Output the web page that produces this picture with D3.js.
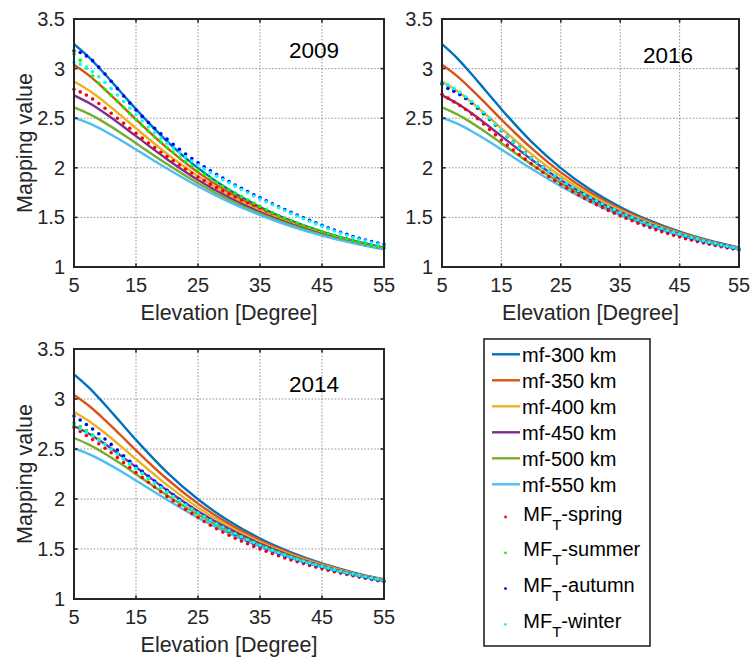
<!DOCTYPE html>
<html>
<head>
<meta charset="utf-8">
<script src="https://cdn.jsdelivr.net/npm/d3@7/dist/d3.min.js"></script>
<style>
  html, body { margin: 0; padding: 0; background: #fff; }
  svg { display: block; font-family: "Liberation Sans", Arial, Helvetica, sans-serif; }
</style>
</head>
<body>
<svg id="chart" width="752" height="658"></svg>
<script>
// ---------- data ----------
const xTicks = [5, 15, 25, 35, 45, 55];
const yTicks = [1, 1.5, 2, 2.5, 3, 3.5];

// single-layer mapping function curves, sampled along elevation (degrees)
const elevLine = [5, 7.5, 10, 12.5, 15, 20, 25, 30, 35, 40, 45, 50, 55];
const mf300 = [3.247, 3.109, 2.943, 2.767, 2.591, 2.267, 1.997, 1.779, 1.605, 1.467, 1.356, 1.267, 1.195];
const mf350 = [3.039, 2.927, 2.789, 2.640, 2.487, 2.200, 1.954, 1.751, 1.587, 1.455, 1.348, 1.261, 1.192];
const mf400 = [2.870, 2.776, 2.660, 2.531, 2.398, 2.141, 1.915, 1.725, 1.570, 1.443, 1.340, 1.256, 1.188];
const mf450 = [2.730, 2.650, 2.549, 2.436, 2.319, 2.087, 1.878, 1.701, 1.553, 1.431, 1.332, 1.250, 1.184];
const mf500 = [2.610, 2.541, 2.453, 2.354, 2.248, 2.038, 1.845, 1.678, 1.537, 1.421, 1.324, 1.245, 1.181];
const mf550 = [2.507, 2.447, 2.369, 2.280, 2.185, 1.993, 1.814, 1.656, 1.523, 1.410, 1.317, 1.241, 1.178];

const lineNames = ["mf-300 km", "mf-350 km", "mf-400 km", "mf-450 km", "mf-500 km", "mf-550 km"];

// seasonal mapping values, one per degree of elevation
const elevDots = [5, 6, 7, 8, 9, 10, 11, 12, 13, 14, 15, 16, 17, 18, 19, 20, 21, 22, 23, 24,
  25, 26, 27, 28, 29, 30, 31, 32, 33, 34, 35, 36, 37, 38, 39, 40, 41, 42, 43, 44,
  45, 46, 47, 48, 49, 50, 51, 52, 53, 54, 55];

const spring2009 = [2.792, 2.765, 2.733, 2.694, 2.648, 2.600, 2.550, 2.500, 2.450, 2.399,
  2.349, 2.299, 2.250, 2.203, 2.157, 2.113, 2.070, 2.028, 1.987, 1.947,
  1.908, 1.871, 1.835, 1.800, 1.767, 1.735, 1.705, 1.676, 1.649, 1.622,
  1.596, 1.568, 1.541, 1.514, 1.488, 1.463, 1.439, 1.416, 1.394, 1.373,
  1.353, 1.333, 1.314, 1.296, 1.279, 1.262, 1.246, 1.231, 1.217, 1.204, 1.192];
const summer2009 = [3.148, 3.085, 3.005, 2.925, 2.855, 2.790, 2.730, 2.670, 2.609, 2.548,
  2.487, 2.427, 2.368, 2.311, 2.257, 2.205, 2.155, 2.107, 2.061, 2.017,
  1.975, 1.934, 1.894, 1.855, 1.817, 1.780, 1.744, 1.709, 1.675, 1.642,
  1.610, 1.577, 1.546, 1.517, 1.490, 1.465, 1.441, 1.418, 1.396, 1.375,
  1.355, 1.335, 1.316, 1.298, 1.280, 1.263, 1.247, 1.232, 1.218, 1.205, 1.193];
const autumn2009 = [3.180, 3.162, 3.128, 3.080, 3.015, 2.945, 2.872, 2.798, 2.724, 2.652,
  2.583, 2.518, 2.456, 2.398, 2.342, 2.289, 2.237, 2.187, 2.139, 2.094,
  2.050, 2.010, 1.971, 1.933, 1.897, 1.862, 1.827, 1.793, 1.760, 1.728,
  1.697, 1.667, 1.637, 1.608, 1.579, 1.551, 1.524, 1.497, 1.471, 1.445,
  1.420, 1.396, 1.373, 1.351, 1.329, 1.308, 1.289, 1.272, 1.256, 1.241, 1.228];
const winter2009 = [3.060, 3.045, 3.015, 2.970, 2.918, 2.860, 2.798, 2.734, 2.668, 2.601,
  2.535, 2.472, 2.412, 2.355, 2.300, 2.248, 2.200, 2.154, 2.110, 2.068,
  2.028, 1.989, 1.952, 1.916, 1.882, 1.849, 1.815, 1.781, 1.748, 1.716,
  1.685, 1.657, 1.627, 1.598, 1.569, 1.541, 1.514, 1.487, 1.461, 1.435,
  1.410, 1.386, 1.363, 1.341, 1.319, 1.298, 1.280, 1.263, 1.247, 1.232, 1.220];

const spring2016 = [2.741, 2.702, 2.665, 2.628, 2.588, 2.543, 2.494, 2.441, 2.386, 2.332,
  2.280, 2.229, 2.180, 2.133, 2.087, 2.042, 1.998, 1.955, 1.913, 1.873,
  1.834, 1.796, 1.760, 1.725, 1.692, 1.660, 1.629, 1.599, 1.570, 1.543,
  1.517, 1.491, 1.466, 1.442, 1.419, 1.397, 1.376, 1.356, 1.337, 1.319,
  1.302, 1.286, 1.271, 1.256, 1.242, 1.229, 1.216, 1.204, 1.193, 1.183, 1.174];
const summer2016 = [2.860, 2.828, 2.790, 2.748, 2.700, 2.650, 2.598, 2.543, 2.486, 2.428,
  2.370, 2.312, 2.255, 2.200, 2.148, 2.098, 2.051, 2.005, 1.961, 1.919,
  1.878, 1.839, 1.802, 1.766, 1.731, 1.697, 1.665, 1.634, 1.604, 1.575,
  1.547, 1.521, 1.495, 1.471, 1.448, 1.426, 1.405, 1.385, 1.365, 1.346,
  1.328, 1.311, 1.294, 1.278, 1.262, 1.247, 1.233, 1.219, 1.206, 1.194, 1.182];
const autumn2016 = [2.845, 2.800, 2.772, 2.738, 2.698, 2.653, 2.604, 2.550, 2.492, 2.434,
  2.376, 2.318, 2.261, 2.206, 2.153, 2.102, 2.054, 2.008, 1.963, 1.920,
  1.878, 1.836, 1.799, 1.763, 1.728, 1.694, 1.662, 1.631, 1.601, 1.572,
  1.544, 1.518, 1.492, 1.468, 1.445, 1.423, 1.402, 1.382, 1.362, 1.343,
  1.325, 1.308, 1.291, 1.275, 1.259, 1.244, 1.230, 1.216, 1.203, 1.191, 1.179];
const winter2016 = [2.868, 2.836, 2.800, 2.760, 2.716, 2.668, 2.616, 2.560, 2.500, 2.439,
  2.378, 2.318, 2.260, 2.205, 2.152, 2.101, 2.054, 2.008, 1.964, 1.921,
  1.880, 1.842, 1.805, 1.769, 1.734, 1.700, 1.668, 1.637, 1.607, 1.578,
  1.550, 1.524, 1.498, 1.474, 1.451, 1.429, 1.408, 1.388, 1.368, 1.349,
  1.331, 1.314, 1.297, 1.281, 1.265, 1.250, 1.236, 1.222, 1.209, 1.197, 1.185];

const spring2014 = [2.715, 2.675, 2.635, 2.595, 2.552, 2.508, 2.462, 2.414, 2.365, 2.315,
  2.265, 2.216, 2.167, 2.119, 2.072, 2.026, 1.981, 1.937, 1.895, 1.854,
  1.814, 1.775, 1.738, 1.703, 1.669, 1.637, 1.607, 1.579, 1.552, 1.526,
  1.501, 1.477, 1.454, 1.432, 1.411, 1.391, 1.372, 1.354, 1.336, 1.319,
  1.303, 1.288, 1.273, 1.259, 1.245, 1.232, 1.219, 1.207, 1.195, 1.184, 1.174];
const summer2014 = [2.762, 2.724, 2.684, 2.642, 2.598, 2.550, 2.500, 2.450, 2.400, 2.351,
  2.302, 2.254, 2.206, 2.159, 2.113, 2.068, 2.024, 1.981, 1.939, 1.898,
  1.858, 1.820, 1.783, 1.747, 1.713, 1.680, 1.648, 1.617, 1.588, 1.560,
  1.533, 1.507, 1.482, 1.458, 1.435, 1.414, 1.394, 1.375, 1.356, 1.338,
  1.321, 1.305, 1.289, 1.274, 1.259, 1.245, 1.231, 1.218, 1.205, 1.193, 1.182];
const autumn2014 = [2.829, 2.790, 2.745, 2.700, 2.652, 2.600, 2.546, 2.490, 2.432, 2.378,
  2.326, 2.276, 2.227, 2.179, 2.133, 2.087, 2.041, 1.996, 1.952, 1.909,
  1.868, 1.828, 1.789, 1.752, 1.715, 1.680, 1.647, 1.615, 1.586, 1.558,
  1.531, 1.505, 1.480, 1.456, 1.433, 1.412, 1.392, 1.373, 1.354, 1.336,
  1.319, 1.303, 1.287, 1.272, 1.257, 1.243, 1.229, 1.216, 1.203, 1.191, 1.180];
const winter2014 = [2.738, 2.702, 2.666, 2.628, 2.588, 2.545, 2.500, 2.453, 2.404, 2.355,
  2.306, 2.258, 2.210, 2.163, 2.117, 2.072, 2.028, 1.985, 1.943, 1.902,
  1.862, 1.824, 1.787, 1.751, 1.717, 1.684, 1.652, 1.621, 1.592, 1.564,
  1.537, 1.511, 1.486, 1.462, 1.439, 1.418, 1.398, 1.379, 1.360, 1.342,
  1.325, 1.309, 1.293, 1.278, 1.263, 1.249, 1.235, 1.222, 1.209, 1.197, 1.186];

const seasonNames = ["spring", "summer", "autumn", "winter"];

// ---------- styling ----------
const lineColors = ["#0072BD", "#D95319", "#EDB120", "#7E2F8E", "#77AC30", "#4DBEEE"];
const dotColors = ["#FF0000", "#00FF00", "#0000FF", "#00FFFF"];
const axisColor = "#262626";
const gridColor = "#8f8f8f";

const lineSeries = [mf300, mf350, mf400, mf450, mf500, mf550];

const panels = [
  { year: "2009", seasons: [spring2009, summer2009, autumn2009, winter2009],
    box: { left: 74, right: 384, top: 19, bottom: 267 }, yearAt: { dx: 215, dy: 39 }, yLabel: true },
  { year: "2016", seasons: [spring2016, summer2016, autumn2016, winter2016],
    box: { left: 442, right: 739, top: 19, bottom: 267 }, yearAt: { dx: 201, dy: 44 }, yLabel: false },
  { year: "2014", seasons: [spring2014, summer2014, autumn2014, winter2014],
    box: { left: 74, right: 384, top: 349, bottom: 599 }, yearAt: { dx: 215, dy: 43 }, yLabel: true }
];

const svg = d3.select("#chart");

function drawPanel(p) {
  const b = p.box;
  const x = d3.scaleLinear().domain([5, 55]).range([b.left, b.right]);
  const y = d3.scaleLinear().domain([1, 3.5]).range([b.bottom, b.top]);
  const g = svg.append("g");

  // dotted grid
  const grid = g.append("g").attr("stroke", gridColor).attr("stroke-width", 1)
    .attr("stroke-dasharray", "1.5,1.8");
  grid.selectAll("line.gx").data(xTicks.slice(1, -1)).join("line")
    .attr("x1", d => x(d)).attr("x2", d => x(d))
    .attr("y1", b.top).attr("y2", b.bottom);
  grid.selectAll("line.gy").data(yTicks.slice(1, -1)).join("line")
    .attr("x1", b.left).attr("x2", b.right)
    .attr("y1", d => y(d)).attr("y2", d => y(d));

  // mapping-function curves
  const line = d3.line()
    .x((d, i) => x(elevLine[i]))
    .y(d => y(d))
    .curve(d3.curveMonotoneX);
  g.append("g").selectAll("path").data(lineSeries).join("path")
    .attr("d", d => line(d))
    .attr("fill", "none")
    .attr("stroke", (d, i) => lineColors[i])
    .attr("stroke-width", 2.4)
    .attr("stroke-linejoin", "round");

  // seasonal dots
  p.seasons.forEach((vals, si) => {
    g.append("g").attr("fill", dotColors[si])
      .selectAll("circle").data(vals).join("circle")
      .attr("cx", (d, i) => x(elevDots[i]))
      .attr("cy", d => y(d))
      .attr("r", 1.8);
  });

  // frame box
  g.append("rect")
    .attr("x", b.left).attr("y", b.top)
    .attr("width", b.right - b.left).attr("height", b.bottom - b.top)
    .attr("fill", "none").attr("stroke", axisColor).attr("stroke-width", 2);

  // inward tick marks on all four sides
  const tk = g.append("g").attr("stroke", axisColor).attr("stroke-width", 1.6);
  const tl = 3.5;
  xTicks.forEach(v => {
    tk.append("line").attr("x1", x(v)).attr("x2", x(v)).attr("y1", b.bottom).attr("y2", b.bottom - tl);
    tk.append("line").attr("x1", x(v)).attr("x2", x(v)).attr("y1", b.top).attr("y2", b.top + tl);
  });
  yTicks.forEach(v => {
    tk.append("line").attr("x1", b.left).attr("x2", b.left + tl).attr("y1", y(v)).attr("y2", y(v));
    tk.append("line").attr("x1", b.right).attr("x2", b.right - tl).attr("y1", y(v)).attr("y2", y(v));
  });

  // tick labels
  g.append("g").selectAll("text").data(xTicks).join("text")
    .attr("x", d => x(d)).attr("y", b.bottom + 24.5)
    .attr("text-anchor", "middle").attr("font-size", 20).attr("fill", axisColor)
    .text(d => d);
  g.append("g").selectAll("text").data(yTicks).join("text")
    .attr("x", b.left - 9).attr("y", d => y(d) + 7)
    .attr("text-anchor", "end").attr("font-size", 20).attr("fill", axisColor)
    .text(d => d);

  // axis titles
  g.append("text")
    .attr("x", (b.left + b.right) / 2).attr("y", b.bottom + 53)
    .attr("text-anchor", "middle").attr("font-size", 21.5).attr("fill", axisColor)
    .text("Elevation [Degree]");
  if (p.yLabel) {
    const cy = (b.top + b.bottom) / 2;
    g.append("text")
      .attr("transform", `translate(${b.left - 42},${cy}) rotate(-90)`)
      .attr("text-anchor", "middle").attr("font-size", 21.5).attr("fill", axisColor)
      .text("Mapping value");
  }

  // year tag
  g.append("text")
    .attr("x", b.left + p.yearAt.dx).attr("y", b.top + p.yearAt.dy)
    .attr("font-size", 22.5).attr("fill", "#000")
    .text(p.year);
}

panels.forEach(drawPanel);

// ---------- legend ----------
const leg = svg.append("g");
leg.append("rect")
  .attr("x", 484).attr("y", 339).attr("width", 166).attr("height", 307)
  .attr("fill", "#fff").attr("stroke", axisColor).attr("stroke-width", 1.6);

lineNames.forEach((name, i) => {
  const ly = 354.3 + i * 26;
  leg.append("line")
    .attr("x1", 492).attr("x2", 520).attr("y1", ly).attr("y2", ly)
    .attr("stroke", lineColors[i]).attr("stroke-width", 2.4);
  leg.append("text")
    .attr("x", 522).attr("y", ly + 8)
    .attr("font-size", 20).attr("fill", "#000")
    .text(name);
});

seasonNames.forEach((name, i) => {
  const by = 520.5 + i * 35.8;
  leg.append("circle")
    .attr("cx", 505.5).attr("cy", by - 3.5).attr("r", 1.4)
    .attr("fill", dotColors[i]);
  const t = leg.append("text")
    .attr("x", 523.3).attr("y", by)
    .attr("font-size", 20).attr("fill", "#000");
  t.append("tspan").text("MF");
  t.append("tspan").attr("font-size", 15).attr("dy", 9).text("T");
  t.append("tspan").attr("dy", -9).text("-" + name);
});
</script>
</body>
</html>
